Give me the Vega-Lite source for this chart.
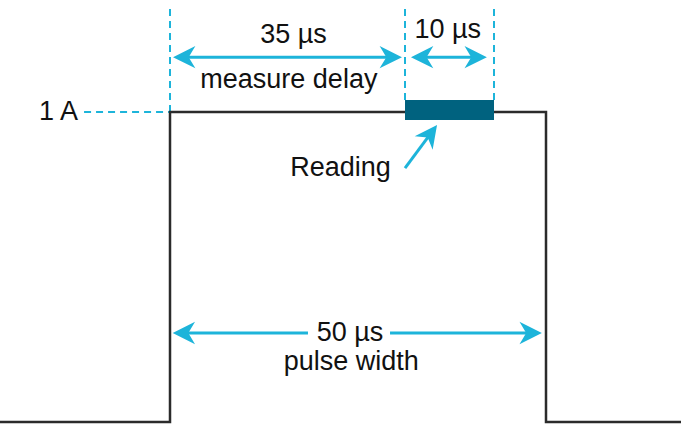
{
  "$schema": "https://vega.github.io/schema/vega-lite/v6.json",
  "width": 681,
  "height": 424,
  "padding": 0,
  "autosize": {"type": "none"},
  "background": "white",
  "config": {"view": {"stroke": null}},
  "encoding": {
    "x": {"field": "t", "type": "quantitative", "axis": null,
          "scale": {"domain": [0, 35, 45, 50], "range": [170, 405, 494, 546], "nice": false, "zero": false}},
    "y": {"field": "a", "type": "quantitative", "axis": null,
          "scale": {"domain": [0, 1], "range": [422, 112], "nice": false, "zero": false}}
  },
  "layer": [
    {
      "data": {"values": [
        {"t": 0, "a": 1.0, "a2": 1.339},
        {"t": 35, "a": 1.039, "a2": 1.339},
        {"t": 45, "a": 1.039, "a2": 1.339}
      ]},
      "mark": {"type": "rule", "color": "#1db4da", "strokeWidth": 2, "strokeDash": [7, 5]},
      "encoding": {"y2": {"field": "a2"}}
    },
    {
      "data": {"values": [{"t": -12.8, "t2": 0, "a": 1.0}]},
      "mark": {"type": "rule", "color": "#1db4da", "strokeWidth": 2, "strokeDash": [7, 5]},
      "encoding": {"x2": {"field": "t2"}}
    },
    {
      "data": {"values": [
        {"o": 1, "t": -27, "a": 0},
        {"o": 2, "t": 0, "a": 0},
        {"o": 3, "t": 0, "a": 1},
        {"o": 4, "t": 50, "a": 1},
        {"o": 5, "t": 50, "a": 0},
        {"o": 6, "t": 66, "a": 0}
      ]},
      "mark": {"type": "line", "color": "#2b2b2b", "strokeWidth": 2.5, "strokeJoin": "miter", "strokeCap": "butt", "clip": true},
      "encoding": {"order": {"field": "o", "type": "quantitative"}}
    },
    {
      "data": {"values": [{"t": 35, "t2": 45, "a": 0.974, "a2": 1.039}]},
      "mark": {"type": "rect", "color": "#00627f"},
      "encoding": {"x2": {"field": "t2"}, "y2": {"field": "a2"}}
    },
    {
      "data": {"values": [
        {"t": 1.5, "t2": 33.5, "a": 1.177, "a2": 1.177},
        {"t": 36.46, "t2": 43.43, "a": 1.177, "a2": 1.177},
        {"t": 1.5, "t2": 20.55, "a": 0.287, "a2": 0.287},
        {"t": 32.77, "t2": 48.94, "a": 0.287, "a2": 0.287},
        {"t": 35, "t2": 38.19, "a": 0.819, "a2": 0.9426}
      ]},
      "mark": {"type": "rule", "color": "#1db4da", "strokeWidth": 3},
      "encoding": {"x2": {"field": "t2"}, "y2": {"field": "a2"}}
    },
    {
      "data": {"values": [
        {"t": 0.45, "a": 1.177},
        {"t": 35.67, "a": 1.177},
        {"t": 0.4, "a": 0.287}
      ]},
      "mark": {"type": "point", "shape": "M0,0L2,-1L1.4,0L2,1Z", "size": 500, "filled": true, "opacity": 1, "color": "#1db4da", "strokeWidth": 0}
    },
    {
      "data": {"values": [
        {"t": 34.55, "a": 1.177},
        {"t": 44.2, "a": 1.177},
        {"t": 49.6, "a": 0.287}
      ]},
      "mark": {"type": "point", "shape": "M0,0L-2,-1L-1.4,0L-2,1Z", "size": 500, "filled": true, "opacity": 1, "color": "#1db4da", "strokeWidth": 0}
    },
    {
      "data": {"values": [{"t": 38.6, "a": 0.958}]},
      "mark": {"type": "point", "shape": "M0,0L-2,-1L-1.4,0L-2,1Z", "size": 500, "angle": 306.7, "filled": true, "opacity": 1, "color": "#1db4da", "strokeWidth": 0}
    },
    {
      "data": {"values": [
        {"t": 18.4, "a": 1.2236, "label": "35 µs"},
        {"t": 17.7, "a": 1.0784, "label": "measure delay"},
        {"t": 39.8, "a": 1.2374, "label": "10 µs"},
        {"t": 25.4, "a": 0.7935, "label": "Reading"},
        {"t": 26.8, "a": 0.261, "label": "50 µs"},
        {"t": 27.0, "a": 0.1677, "label": "pulse width"}
      ]},
      "mark": {"type": "text", "font": "Liberation Sans", "fontSize": 27, "color": "#111111", "baseline": "alphabetic", "align": "center"},
      "encoding": {"text": {"field": "label"}}
    },
    {
      "data": {"values": [{"t": -13.7, "a": 0.974, "label": "1 A"}]},
      "mark": {"type": "text", "font": "Liberation Sans", "fontSize": 27, "color": "#111111", "baseline": "alphabetic", "align": "right"},
      "encoding": {"text": {"field": "label"}}
    }
  ]
}
